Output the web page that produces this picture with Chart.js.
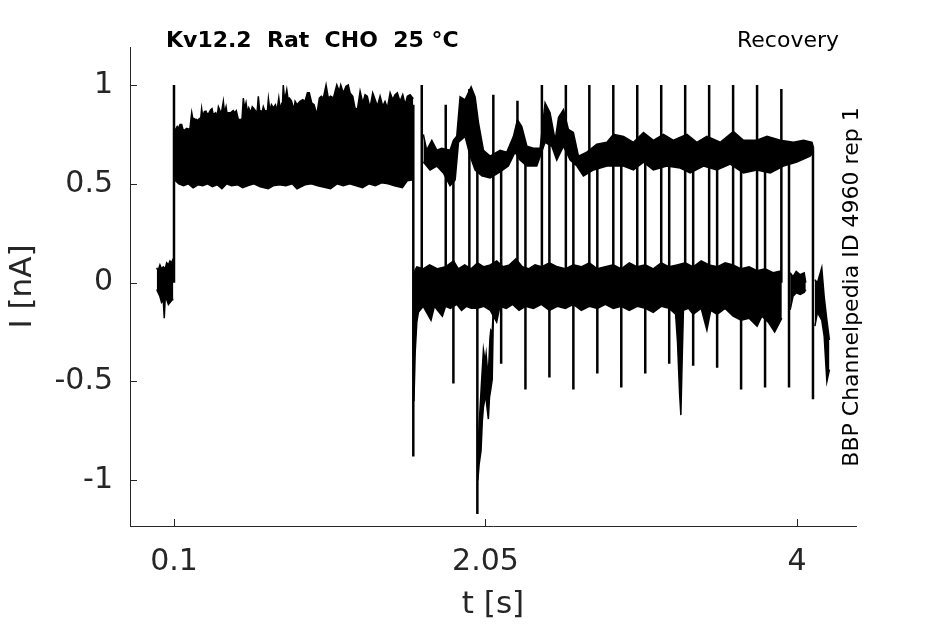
<!DOCTYPE html>
<html>
<head>
<meta charset="utf-8">
<script src="https://cdn.jsdelivr.net/npm/chart.js@4.4.1/dist/chart.umd.min.js"></script>
<style>
  html, body { margin: 0; padding: 0; background: #fff; }
  #wrap { width: 945px; height: 624px; }
</style>
</head>
<body>
<div id="wrap"><canvas id="traceChart" width="945" height="624"></canvas></div>
<script>
// values: [t (s), I (nA)]
const xTicks = [0.1, 2.05, 4];
const yTicks = [-1, -0.5, 0, 0.5, 1];

// holding segment before the step
const preTop = [[-0.008, 0.075], [0.0, 0.06], [0.012, 0.09], [0.022, 0.07], [0.033, 0.08], [0.045, 0.07],
  [0.054, 0.10], [0.065, 0.09], [0.075, 0.11], [0.085, 0.10], [0.092, 0.115], [0.096, 0.11]];
const preBottom = [[-0.008, -0.035], [0.0, -0.05], [0.012, -0.07], [0.022, -0.10], [0.033, -0.09], [0.039, -0.18],
  [0.045, -0.08], [0.054, -0.085], [0.065, -0.11], [0.075, -0.10], [0.085, -0.09], [0.096, -0.085]];

// long step 0.1 - 1.6 s
const stepTop = [[0.104, 0.72], [0.106, 0.77], [0.120, 0.79], [0.127, 0.78], [0.138, 0.80], [0.148, 0.80],
  [0.158, 0.77], [0.169, 0.774], [0.180, 0.78], [0.190, 0.776], [0.200, 0.78], [0.211, 0.86], [0.218, 0.83],
  [0.225, 0.83], [0.235, 0.825], [0.242, 0.825], [0.250, 0.82], [0.258, 0.83], [0.266, 0.82], [0.273, 0.88],
  [0.280, 0.84], [0.290, 0.865], [0.300, 0.867], [0.310, 0.85], [0.320, 0.86], [0.330, 0.875], [0.338, 0.88],
  [0.346, 0.85], [0.361, 0.86], [0.370, 0.84], [0.378, 0.89], [0.386, 0.875], [0.395, 0.85], [0.409, 0.917],
  [0.416, 0.86], [0.426, 0.89], [0.433, 0.85], [0.440, 0.86], [0.455, 0.86], [0.471, 0.87], [0.480, 0.86],
  [0.490, 0.87], [0.503, 0.825], [0.518, 0.825], [0.526, 0.83], [0.534, 0.934], [0.542, 0.88], [0.551, 0.91],
  [0.560, 0.86], [0.568, 0.884], [0.580, 0.86], [0.590, 0.89], [0.597, 0.884], [0.610, 0.87], [0.620, 0.86],
  [0.628, 0.943], [0.636, 0.87], [0.643, 0.87], [0.651, 0.86], [0.659, 0.89], [0.668, 0.87], [0.676, 0.87],
  [0.684, 0.86], [0.691, 0.93], [0.700, 0.87], [0.710, 0.90], [0.722, 0.884], [0.735, 0.90], [0.745, 0.87],
  [0.756, 0.934], [0.764, 0.88], [0.772, 0.90], [0.778, 0.88], [0.784, 1.0], [0.792, 0.93], [0.800, 0.95],
  [0.806, 0.976], [0.814, 0.93], [0.822, 0.934], [0.835, 0.92], [0.851, 0.875], [0.858, 0.917], [0.870, 0.90],
  [0.889, 0.917], [0.906, 0.926], [0.920, 0.917], [0.935, 0.96], [0.947, 0.96], [0.962, 0.909], [0.977, 0.90],
  [0.994, 0.85], [1.010, 0.934], [1.022, 0.943], [1.035, 0.934], [1.052, 1.0], [1.066, 0.934], [1.080, 0.943],
  [1.098, 0.934], [1.119, 1.0], [1.135, 0.968], [1.144, 1.0], [1.160, 0.96], [1.177, 0.993], [1.191, 1.0],
  [1.202, 0.96], [1.219, 0.943], [1.233, 0.884], [1.248, 0.875], [1.265, 0.968], [1.282, 0.909], [1.296, 0.951],
  [1.310, 0.943], [1.327, 0.884], [1.344, 0.96], [1.359, 0.926], [1.373, 0.892], [1.390, 0.943], [1.407, 0.892],
  [1.421, 0.917], [1.436, 0.884], [1.453, 0.96], [1.469, 0.926], [1.484, 0.951], [1.498, 0.96], [1.515, 0.917],
  [1.532, 0.951], [1.547, 0.90], [1.561, 0.943], [1.578, 0.951], [1.598, 0.93]];
const stepBottom = [[0.104, 0.52], [0.130, 0.50], [0.160, 0.49], [0.190, 0.50], [0.220, 0.48], [0.250, 0.495],
  [0.280, 0.49], [0.310, 0.50], [0.340, 0.485], [0.370, 0.495], [0.400, 0.475], [0.430, 0.50], [0.460, 0.49],
  [0.500, 0.495], [0.530, 0.48], [0.560, 0.49], [0.600, 0.50], [0.640, 0.485], [0.690, 0.475], [0.720, 0.49],
  [0.760, 0.495], [0.800, 0.49], [0.840, 0.50], [0.870, 0.475], [0.920, 0.495], [0.960, 0.50], [1.000, 0.49],
  [1.080, 0.475], [1.120, 0.50], [1.160, 0.49], [1.200, 0.50], [1.280, 0.48], [1.320, 0.50], [1.360, 0.49],
  [1.400, 0.505], [1.440, 0.50], [1.480, 0.49], [1.530, 0.48], [1.560, 0.515], [1.598, 0.52]];

// recovery test pulses, upper envelope of the overlaid sweeps
const recTop = [[1.661, 0.75], [1.682, 0.67], [1.714, 0.72], [1.745, 0.67], [1.776, 0.68], [1.828, 0.67],
  [1.849, 0.72], [1.870, 0.74], [1.891, 0.94], [1.922, 0.925], [1.960, 0.99], [1.985, 0.94], [2.006, 0.81],
  [2.037, 0.67], [2.079, 0.64], [2.141, 0.67], [2.183, 0.66], [2.225, 0.74], [2.250, 0.825], [2.277, 0.79],
  [2.309, 0.69], [2.350, 0.68], [2.392, 0.68], [2.423, 0.91], [2.454, 0.86], [2.486, 0.72], [2.507, 0.835],
  [2.538, 0.875], [2.569, 0.775], [2.600, 0.76], [2.632, 0.64], [2.684, 0.66], [2.747, 0.70], [2.810, 0.71],
  [2.851, 0.75], [2.914, 0.74], [2.976, 0.71], [3.039, 0.76], [3.101, 0.72], [3.164, 0.75], [3.227, 0.72],
  [3.311, 0.75], [3.373, 0.71], [3.436, 0.74], [3.519, 0.71], [3.602, 0.765], [3.665, 0.72], [3.749, 0.72],
  [3.812, 0.74], [3.895, 0.72], [3.978, 0.71], [4.041, 0.72], [4.094, 0.71], [4.104, 0.68]];
const recBottom = [[1.661, 0.61], [1.703, 0.57], [1.745, 0.59], [1.786, 0.555], [1.828, 0.49], [1.860, 0.52],
  [1.881, 0.71], [1.922, 0.74], [1.954, 0.64], [1.985, 0.57], [2.027, 0.54], [2.079, 0.53], [2.141, 0.56],
  [2.193, 0.59], [2.235, 0.66], [2.266, 0.62], [2.309, 0.59], [2.371, 0.59], [2.423, 0.71], [2.465, 0.69],
  [2.496, 0.62], [2.538, 0.69], [2.580, 0.62], [2.622, 0.59], [2.663, 0.54], [2.726, 0.57], [2.810, 0.59],
  [2.914, 0.59], [2.976, 0.57], [3.039, 0.61], [3.101, 0.57], [3.185, 0.59], [3.269, 0.58], [3.331, 0.555],
  [3.415, 0.59], [3.498, 0.57], [3.582, 0.60], [3.665, 0.555], [3.749, 0.57], [3.832, 0.555], [3.915, 0.59],
  [3.999, 0.61], [4.082, 0.64], [4.104, 0.66]];

// recovery interval, holding level envelope
const holdTop = [[1.600, 0.05], [1.62, 0.08], [1.66, 0.07], [1.70, 0.09], [1.75, 0.07], [1.80, 0.08], [1.85, 0.11],
  [1.88, 0.07], [1.92, 0.09], [1.96, 0.07], [2.00, 0.10], [2.04, 0.08], [2.08, 0.09], [2.12, 0.11], [2.16, 0.08],
  [2.20, 0.09], [2.24, 0.12], [2.28, 0.08], [2.32, 0.07], [2.36, 0.09], [2.40, 0.08], [2.45, 0.10], [2.50, 0.08],
  [2.55, 0.07], [2.60, 0.09], [2.65, 0.08], [2.70, 0.10], [2.75, 0.07], [2.80, 0.08], [2.85, 0.09], [2.90, 0.07],
  [2.95, 0.10], [3.00, 0.08], [3.05, 0.09], [3.10, 0.07], [3.15, 0.10], [3.20, 0.08], [3.25, 0.09], [3.30, 0.10],
  [3.35, 0.08], [3.40, 0.11], [3.45, 0.09], [3.50, 0.08], [3.55, 0.10], [3.60, 0.09], [3.65, 0.07], [3.70, 0.08],
  [3.75, 0.06], [3.80, 0.07], [3.85, 0.05], [3.905, 0.06]];
const holdBottom = [[1.602, -0.60], [1.610, -0.35], [1.620, -0.20], [1.630, -0.15], [1.66, -0.12], [1.709, -0.19],
  [1.73, -0.12], [1.78, -0.17], [1.80, -0.12], [1.83, -0.13], [1.87, -0.11], [1.90, -0.14], [1.93, -0.12],
  [1.96, -0.13], [2.00, -0.13], [2.04, -0.12], [2.08, -0.14], [2.12, -0.20], [2.14, -0.12], [2.18, -0.13],
  [2.22, -0.11], [2.26, -0.14], [2.30, -0.12], [2.35, -0.13], [2.40, -0.11], [2.45, -0.14], [2.50, -0.12],
  [2.55, -0.13], [2.60, -0.11], [2.65, -0.14], [2.70, -0.12], [2.75, -0.13], [2.80, -0.11], [2.85, -0.13],
  [2.90, -0.12], [2.95, -0.14], [3.00, -0.12], [3.05, -0.13], [3.10, -0.15], [3.15, -0.12], [3.20, -0.13],
  [3.24, -0.16], [3.252, -0.30], [3.265, -0.56], [3.273, -0.67], [3.281, -0.39], [3.289, -0.14], [3.32, -0.13],
  [3.35, -0.16], [3.40, -0.13], [3.436, -0.24], [3.46, -0.14], [3.50, -0.16], [3.55, -0.13], [3.60, -0.17],
  [3.65, -0.19], [3.70, -0.18], [3.75, -0.22], [3.78, -0.17], [3.82, -0.20], [3.86, -0.25], [3.905, -0.18]];

// deep inward transient right after 2 s
const dipTop = [[2.002, -0.90], [2.010, -0.72], [2.022, -0.55], [2.037, -0.34], [2.048, -0.40], [2.054, -0.36],
  [2.062, -0.44], [2.068, -0.46], [2.078, -0.28], [2.083, -0.24], [2.092, -0.25], [2.100, -0.12]];
const dipBottom = [[2.002, -1.00], [2.010, -0.92], [2.022, -0.85], [2.030, -0.70], [2.037, -0.63], [2.048, -0.58],
  [2.054, -0.59], [2.062, -0.65], [2.068, -0.69], [2.075, -0.58], [2.083, -0.54], [2.092, -0.49], [2.100, -0.13]];

// short piece of holding level and the final tail
const lateTop = [[3.957, 0.05], [3.975, 0.03], [3.995, 0.057], [4.020, 0.04], [4.045, 0.05], [4.055, 0.0]];
const lateBottom = [[3.957, -0.137], [3.975, -0.069], [3.995, -0.052], [4.020, -0.06], [4.045, -0.05], [4.055, -0.035]];
const tailTop = [[4.112, 0.015], [4.128, 0.0], [4.155, 0.076], [4.170, -0.07], [4.187, -0.19], [4.203, -0.29]];
const tailBottom = [[4.112, -0.22], [4.128, -0.15], [4.155, -0.19], [4.170, -0.27], [4.187, -0.50], [4.203, -0.44]];

// capacitive transients: time, start level, tip level
const spikeT = [0.1, 1.598, 1.651, 1.801, 1.849, 1.949, 1.999, 2.099, 2.148, 2.25, 2.30, 2.403, 2.45, 2.553,
  2.60, 2.70, 2.75, 2.85, 2.90, 3.00, 3.05, 3.15, 3.20, 3.30, 3.35, 3.45, 3.50, 3.60, 3.65, 3.75, 3.80, 3.902,
  3.95, 4.10];
const spikeFrom = [0.0, 0.9, 0.05, 0.0, 0.65, 0.0, 0.8, 0.0, 0.65, 0.0, 0.65, 0.0, 0.7, 0.0,
  0.7, 0.0, 0.65, 0.0, 0.65, 0.0, 0.65, 0.0, 0.65, 0.0, 0.65, 0.0, 0.65, 0.0, 0.65, 0.0, 0.65, 0.0,
  0.65, 0.68];
const spikeTip = [1.0, -0.88, 1.0, 0.9, -0.51, 0.98, -1.17, 0.95, -0.41, 0.92, -0.54, 1.0, -0.48, 1.0,
  -0.54, 1.0, -0.46, 1.0, -0.53, 1.0, -0.46, 1.0, -0.41, 1.0, -0.42, 1.0, -0.43, 1.0, -0.54, 1.0, -0.53, 0.98,
  -0.53, -0.59];

const FONT = "'DejaVu Sans', 'Liberation Sans', sans-serif";
const AXIS_GREY = "#262626";

const toPts = (arr) => arr.map(([t, i]) => ({ x: t, y: i }));

const band = (top, bottom) => [
  { data: toPts(top), fill: "+1", backgroundColor: "#000", borderColor: "#000", borderWidth: 1.5, pointRadius: 0 },
  { data: toPts(bottom), fill: false, borderColor: "#000", borderWidth: 1.5, pointRadius: 0 },
];

const spikePts = [];
spikeT.forEach((t, k) => {
  spikePts.push({ x: t, y: spikeFrom[k] }, { x: t, y: spikeTip[k] }, { x: t, y: null });
});

const datasets = [
  ...band(preTop, preBottom),
  ...band(stepTop, stepBottom),
  ...band(recTop, recBottom),
  ...band(holdTop, holdBottom),
  ...band(dipTop, dipBottom),
  ...band(lateTop, lateBottom),
  ...band(tailTop, tailBottom),
  { data: spikePts, fill: false, borderColor: "#000", borderWidth: 2.5, pointRadius: 0, spanGaps: false },
];

// matlab style ticks pointing into the axes
const inwardTicks = {
  id: "inwardTicks",
  afterDraw(chart) {
    const { ctx, chartArea, scales } = chart;
    ctx.save();
    ctx.strokeStyle = AXIS_GREY;
    ctx.lineWidth = 1;
    ctx.beginPath();
    xTicks.forEach((v) => {
      const px = Math.round(scales.x.getPixelForValue(v)) + 0.5;
      ctx.moveTo(px, chartArea.bottom);
      ctx.lineTo(px, chartArea.bottom - 7);
    });
    yTicks.forEach((v) => {
      const py = Math.round(scales.y.getPixelForValue(v)) + 0.5;
      ctx.moveTo(chartArea.left, py);
      ctx.lineTo(chartArea.left + 7, py);
    });
    ctx.stroke();
    ctx.restore();
  },
};

const captions = {
  id: "captions",
  afterDraw(chart) {
    const { ctx } = chart;
    ctx.save();
    ctx.fillStyle = "#000";
    ctx.textBaseline = "alphabetic";
    ctx.font = "bold 22px " + FONT;
    ctx.textAlign = "left";
    ctx.fillText("Kv12.2  Rat  CHO  25 °C", 166, 47);
    ctx.font = "22px " + FONT;
    ctx.textAlign = "right";
    ctx.fillText("Recovery", 839, 47);
    ctx.translate(858, 287);
    ctx.rotate(-Math.PI / 2);
    ctx.textAlign = "center";
    ctx.fillText("BBP Channelpedia ID 4960 rep 1", 0, 0);
    ctx.restore();
  },
};

new Chart(document.getElementById("traceChart"), {
  type: "line",
  data: { datasets },
  options: {
    responsive: false,
    animation: false,
    devicePixelRatio: 1,
    layout: { padding: { top: 47, right: 89, left: 0, bottom: 0 } },
    elements: { line: { tension: 0 } },
    plugins: { legend: { display: false }, tooltip: { enabled: false } },
    scales: {
      x: {
        type: "linear",
        min: -0.1754,
        max: 4.3693,
        afterFit: (s) => { s.height = 98; },
        afterBuildTicks: (s) => { s.ticks = xTicks.map((v) => ({ value: v })); },
        grid: { display: false, drawTicks: false },
        border: { display: true, color: AXIS_GREY, width: 1 },
        ticks: { padding: 18, color: AXIS_GREY, font: { family: FONT, size: 30 }, maxRotation: 0, autoSkip: false,
          callback: (v) => String(v) },
        title: { display: true, text: "t [s]", color: AXIS_GREY, font: { family: FONT, size: 31 },
          padding: { top: 0, bottom: 0 } },
      },
      y: {
        type: "linear",
        min: -1.231,
        max: 1.192,
        afterFit: (s) => { s.width = 130; },
        afterBuildTicks: (s) => { s.ticks = yTicks.map((v) => ({ value: v })); },
        grid: { display: false, drawTicks: false },
        border: { display: true, color: AXIS_GREY, width: 1 },
        ticks: { padding: 17, color: AXIS_GREY, font: { family: FONT, size: 30 }, autoSkip: false,
          callback: (v) => String(v) },
        title: { display: true, text: "I [nA]", color: AXIS_GREY, font: { family: FONT, size: 31 },
          padding: { top: 4, bottom: 0 } },
      },
    },
  },
  plugins: [inwardTicks, captions],
});
</script>
</body>
</html>
